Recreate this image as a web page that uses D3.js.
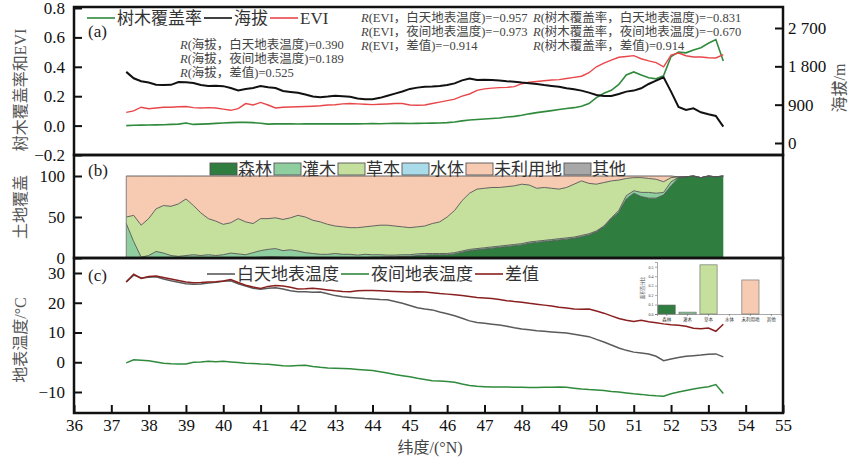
<!DOCTYPE html>
<html>
<head>
<meta charset="utf-8">
<script src="https://cdn.jsdelivr.net/npm/d3@7"></script>
<style>
  body { margin: 0; background: #fff; }
  svg text { font-family: "Liberation Serif", "Noto Sans CJK SC", serif; }
</style>
</head>
<body>
<div id="chart"></div>
<script>
// ---- data ----
const lat = [37.4, 37.6, 37.8, 38.0, 38.2, 38.4, 38.6, 38.8, 39.0, 39.2, 39.4, 39.6, 39.8, 40.0, 40.2, 40.4, 40.6, 40.8,
  41.0, 41.2, 41.4, 41.6, 41.8, 42.0, 42.2, 42.4, 42.6, 42.8, 43.0, 43.2, 43.4, 43.6, 43.8, 44.0, 44.2, 44.4, 44.6, 44.8,
  45.0, 45.2, 45.4, 45.6, 45.8, 46.0, 46.2, 46.4, 46.6, 46.8, 47.0, 47.2, 47.4, 47.6, 47.8, 48.0, 48.2, 48.4, 48.6, 48.8,
  49.0, 49.2, 49.4, 49.6, 49.8, 50.0, 50.2, 50.4, 50.6, 50.8, 51.0, 51.2, 51.4, 51.6, 51.8, 52.0, 52.2, 52.4, 52.6, 52.8,
  53.0, 53.2, 53.4];

const treeCover = [0.000, 0.002, 0.003, 0.004, 0.005, 0.006, 0.008, 0.010, 0.018, 0.008, 0.010, 0.012, 0.015, 0.018, 0.020, 0.022, 0.022, 0.020,
  0.016, 0.010, 0.012, 0.013, 0.012, 0.011, 0.012, 0.012, 0.013, 0.012, 0.012, 0.013, 0.012, 0.012, 0.013, 0.014, 0.013, 0.014, 0.015, 0.015,
  0.014, 0.015, 0.016, 0.017, 0.018, 0.020, 0.025, 0.032, 0.038, 0.042, 0.045, 0.048, 0.052, 0.058, 0.063, 0.070, 0.080, 0.088, 0.095, 0.102,
  0.110, 0.116, 0.122, 0.131, 0.150, 0.190, 0.220, 0.240, 0.280, 0.345, 0.365, 0.345, 0.325, 0.318, 0.340, 0.470, 0.500, 0.495, 0.515, 0.530,
  0.560, 0.585, 0.440];

const elevation = [1670, 1520, 1450, 1420, 1370, 1360, 1365, 1430, 1425, 1410, 1360, 1340, 1345, 1335, 1290, 1235, 1270, 1290,
  1340, 1310, 1290, 1220, 1200, 1180, 1140, 1090, 1075, 1090, 1110, 1100, 1085, 1045, 1030, 1030, 1060, 1110, 1160, 1210,
  1270, 1300, 1320, 1325, 1340, 1360, 1400, 1470, 1515, 1480, 1485, 1480, 1465, 1450, 1440, 1420, 1405, 1385, 1360, 1340,
  1323, 1285, 1262, 1230, 1183, 1128, 1105, 1105, 1150, 1206, 1230, 1285, 1386, 1464, 1540, 1206, 846, 775, 815, 721,
  674, 635, 383];

const evi = [0.090, 0.100, 0.125, 0.115, 0.120, 0.125, 0.125, 0.128, 0.130, 0.122, 0.120, 0.122, 0.120, 0.112, 0.104, 0.115, 0.150, 0.140,
  0.158, 0.140, 0.120, 0.125, 0.127, 0.128, 0.130, 0.132, 0.135, 0.140, 0.142, 0.148, 0.150, 0.148, 0.145, 0.143, 0.145, 0.147, 0.150, 0.150,
  0.140, 0.138, 0.140, 0.150, 0.160, 0.170, 0.180, 0.200, 0.215, 0.240, 0.250, 0.255, 0.258, 0.260, 0.265, 0.285, 0.295, 0.300, 0.305, 0.310,
  0.313, 0.320, 0.328, 0.336, 0.360, 0.400, 0.425, 0.445, 0.465, 0.470, 0.476, 0.455, 0.440, 0.428, 0.400, 0.480, 0.494, 0.475, 0.467, 0.467,
  0.462, 0.460, 0.483];

// land cover shares (%)
const forest = [0, 0, 0, 0, 0, 0, 0, 0, 0, 0, 0, 0, 0, 0, 0, 0, 0, 0.5,
  1, 1.5, 1.5, 1, 1, 0.5, 0.5, 0.5, 0.5, 0.5, 0.5, 0.5, 0.5, 0.5, 0.5, 1, 1, 1.5, 1.5, 2,
  2, 3, 3.5, 4, 4, 4, 5, 7, 9, 10, 11, 12, 13, 14, 15, 16, 18, 19, 20, 21,
  22, 23, 24, 26, 28, 32, 38, 48, 56, 72, 79, 75, 73, 73, 77, 88, 98, 99, 100, 98,
  100, 99, 100];
const shrub = [42, 20, 1, 3, 8, 6, 3, 2, 3, 4, 3, 4, 3, 4, 6, 5, 4, 6,
  8, 9, 10, 8, 9, 8, 6, 5, 4, 4, 5, 4, 4, 3, 4, 3, 3, 2, 2, 2,
  2, 2, 2, 1.5, 1.5, 1.5, 1.5, 1.5, 1.5, 1.5, 1.5, 1.5, 1.5, 1.5, 1.5, 1.5, 1.5, 1.5, 1.5, 1.5,
  1.5, 1.5, 1.5, 1.5, 1.5, 1, 1, 1, 2, 4, 3, 5, 7, 6, 3, 5, 0.5, 0, 0, 0,
  0, 0, 0];
const grass = [8, 32, 39, 45, 52, 58, 60, 64, 69, 60, 52, 44, 42, 37, 37, 43, 40, 35.5,
  39, 37.5, 37.5, 38, 39, 43.5, 43.5, 40.5, 39.5, 36.5, 33.5, 33.5, 32.5, 33.5, 33.5, 35, 36, 36.5, 35.5, 34,
  33, 33, 33.5, 36.5, 38.5, 44.5, 51.5, 61.5, 68.5, 72.5, 72.5, 72.5, 71.5, 71.5, 71.5, 72.5, 69.5, 64.5, 64.5, 62.5,
  60.5, 61.5, 64.5, 66.5, 61.5, 57, 53, 45, 37, 21, 16, 18, 17, 17, 13, 5, 0.5, 0, 0, 0,
  0, 0, 0];
const unused = [50, 48, 60, 52, 40, 36, 37, 34, 28, 36, 45, 52, 55, 59, 57, 52, 56, 58,
  52, 52, 51, 53, 51, 48, 50, 54, 56, 59, 61, 62, 63, 63, 62, 61, 60, 60, 61, 62,
  63, 62, 61, 58, 56, 50, 42, 30, 21, 16, 15, 14, 14, 13, 12, 10, 11, 15, 14, 15,
  16, 14, 10, 6, 9, 10, 8, 6, 5, 3, 2, 2, 3, 4, 7, 2, 0, 0, 0, 0,
  0, 0, 0];

const dayLST = [27.0, 29.3, 28.3, 28.6, 28.7, 28.0, 27.4, 26.9, 26.4, 26.2, 26.3, 26.6, 26.9, 27.2, 27.4, 26.4, 25.6, 24.9,
  24.5, 24.9, 25.0, 24.6, 24.0, 23.7, 23.7, 23.5, 23.6, 23.0, 22.4, 22.0, 21.8, 21.6, 21.4, 21.3, 21.1, 21.0, 20.4, 19.8,
  19.1, 18.3, 17.9, 17.6, 16.9, 16.3, 15.6, 14.8, 13.9, 13.4, 13.1, 12.8, 12.5, 12.1, 11.6, 11.2, 10.9, 10.6, 10.4, 10.2,
  10.0, 9.8, 9.4, 9.0, 8.6, 7.7, 6.8, 5.8, 4.8, 4.0, 3.4, 3.1, 2.8, 2.0, 0.5, 1.1, 1.6, 2.0, 2.2, 2.4,
  2.7, 2.8, 1.8];
const nightLST = [-0.2, 0.8, 0.7, 0.5, 0.1, -0.3, -0.5, -0.6, -0.6, 0.0, 0.1, 0.3, 0.2, 0.3, 0.1, -0.1, -0.3, -0.4,
  -0.6, -0.7, -0.9, -1.2, -1.3, -1.1, -1.0, -1.4, -1.7, -1.9, -2.0, -2.1, -2.2, -2.4, -2.6, -2.8, -3.2, -3.6, -4.1, -4.5,
  -4.9, -5.4, -5.8, -6.2, -6.3, -6.5, -6.7, -7.3, -7.8, -8.1, -8.2, -8.3, -8.3, -8.3, -8.4, -8.4, -8.5, -8.5, -8.4, -8.4,
  -8.3, -8.4, -8.7, -9.0, -9.2, -9.3, -9.5, -9.8, -10.0, -10.3, -10.6, -10.8, -11.1, -11.3, -11.4, -10.6, -10.0, -9.5, -9.0, -8.6,
  -8.2, -7.5, -10.5];
const diffLST = [27.0, 29.6, 28.2, 28.8, 29.0, 28.5, 28.0, 27.5, 27.0, 26.7, 26.8, 27.0, 27.1, 27.3, 27.8, 26.8, 25.9, 25.3,
  24.8, 25.5, 25.8, 25.6, 25.2, 24.6, 24.7, 24.9, 24.6, 24.3, 24.0, 23.8, 23.7, 24.0, 24.1, 24.1, 24.0, 23.9, 23.8, 23.7,
  23.6, 23.7, 23.6, 23.4, 23.1, 22.9, 22.7, 22.4, 22.1, 21.8, 21.6, 21.4, 21.1, 20.7, 20.4, 20.2, 19.8, 19.5, 19.2, 18.9,
  18.5, 18.2, 17.9, 17.8, 17.9, 17.2, 16.5, 15.6, 14.7, 14.1, 13.7, 14.1, 13.6, 13.3, 12.9, 12.6, 12.4, 12.1, 11.4, 11.3,
  11.5, 10.4, 12.8];

const landCoverKeys = ["forest", "shrub", "grass", "water", "unused", "other"];
const landCoverNames = ["森林", "灌木", "草本", "水体", "未利用地", "其他"];
const landCoverShare = [0.095, 0.02, 0.52, 0, 0.36, 0];

const latTicks = [36, 37, 38, 39, 40, 41, 42, 43, 44, 45, 46, 47, 48, 49, 50, 51, 52, 53, 54, 55];
const ticksA = [-0.2, 0, 0.2, 0.4, 0.6, 0.8];
const ticksElev = [0, 900, 1800, 2700];
const ticksB = [0, 50, 100];
const ticksC = [-10, 0, 10, 20, 30];
const insetTicks = [0, 0.1, 0.2, 0.3, 0.4, 0.5];

const corrElev = [["海拔，白天地表温度", "0.390"], ["海拔，夜间地表温度", "0.189"], ["海拔，差值", "0.525"]];
const corrEvi = [["EVI，白天地表温度", "−0.957"], ["EVI，夜间地表温度", "−0.973"], ["EVI，差值", "−0.914"]];
const corrTree = [["树木覆盖率，白天地表温度", "−0.831"], ["树木覆盖率，夜间地表温度", "−0.670"], ["树木覆盖率，差值", "0.914"]];

// ---- layout ----
const W = 851, H = 459;
const left = 74, right = 783;
const topA = 7, botA = 155, botB = 258, botC = 413;

const colTree = "#2f8a3c", colElev = "#111", colEvi = "#e8474a";
const colDay = "#5a5a5a", colNight = "#2f8a3c", colDiff = "#8a1f1f";
const lcColor = d3.scaleOrdinal().domain(landCoverKeys)
  .range(["#2f7d3f", "#8fce9f", "#c4e09c", "#a9dce8", "#f6cbb1", "#a8a8a8"]);

const svg = d3.select("#chart").append("svg").attr("width", W).attr("height", H);

const x = d3.scaleLinear().domain([36, 55]).range([left, right]);
const yA = d3.scaleLinear().domain([-0.2, 0.8]).range([botA, 8]);
const yElev = d3.scaleLinear().domain([0, 2700]).range([143, 28]);
const yB = d3.scaleLinear().domain([0, 100]).range([botB, 176]);
const yC = d3.scaleLinear().domain([-10, 30]).range([392, 273]);

function styleAxis(g) {
  g.select(".domain").remove();
  g.selectAll(".tick line").attr("stroke", "#111").attr("stroke-width", 2);
  g.selectAll(".tick text").attr("font-size", "17px").attr("fill", "#111");
}

// ---- panel (a) ----
const lineOf = (yScale, vals) => d3.line().x((d, i) => x(lat[i])).y((d, i) => yScale(vals[i]));
svg.append("path").attr("d", lineOf(yA, treeCover)(lat))
  .attr("fill", "none").attr("stroke", colTree).attr("stroke-width", 1.6);
svg.append("path").attr("d", lineOf(yA, evi)(lat))
  .attr("fill", "none").attr("stroke", colEvi).attr("stroke-width", 1.4);
svg.append("path").attr("d", lineOf(yElev, elevation)(lat))
  .attr("fill", "none").attr("stroke", colElev).attr("stroke-width", 2);

svg.append("g").attr("transform", `translate(${left},0)`)
  .call(d3.axisLeft(yA).tickValues(ticksA).tickSize(-8).tickPadding(9).tickFormat(d3.format(".1f")))
  .call(styleAxis);
svg.append("g").attr("transform", `translate(${right},0)`)
  .call(d3.axisRight(yElev).tickValues(ticksElev).tickSize(-8).tickPadding(5)
    .tickFormat(v => d3.format(",")(v).replace(",", " ")))
  .call(styleAxis);

// ---- panel (b) ----
const rows = lat.map((l, i) => ({ lat: l, forest: forest[i], shrub: shrub[i], grass: grass[i], unused: unused[i] }));
const stack = d3.stack().keys(landCoverKeys).value((d, k) => d[k] || 0);
const layers = stack(rows);
const area = d3.area().x(d => x(d.data.lat)).y0(d => yB(d[0])).y1(d => yB(d[1]));
const topLine = d3.line().x(d => x(d.data.lat)).y(d => yB(d[1]));
layers.forEach(layer => {
  svg.append("path").attr("d", area(layer)).attr("fill", lcColor(layer.key));
});
layers.forEach(layer => {
  if (layer.key === "water" || layer.key === "other") return;
  svg.append("path").attr("d", topLine(layer))
    .attr("fill", "none").attr("stroke", "#555").attr("stroke-width", 0.9);
});
svg.append("line")
  .attr("x1", x(lat[0])).attr("x2", x(lat[0]))
  .attr("y1", yB(0)).attr("y2", yB(layers[layers.length - 1][0][1]))
  .attr("stroke", "#777").attr("stroke-width", 0.9);

svg.append("g").attr("transform", `translate(${left},0)`)
  .call(d3.axisLeft(yB).tickValues(ticksB).tickSize(-8).tickPadding(9))
  .call(styleAxis);

// ---- panel (c) ----
svg.append("path").attr("d", lineOf(yC, dayLST)(lat))
  .attr("fill", "none").attr("stroke", colDay).attr("stroke-width", 1.5);
svg.append("path").attr("d", lineOf(yC, nightLST)(lat))
  .attr("fill", "none").attr("stroke", colNight).attr("stroke-width", 1.5);
svg.append("path").attr("d", lineOf(yC, diffLST)(lat))
  .attr("fill", "none").attr("stroke", colDiff).attr("stroke-width", 1.5);

svg.append("g").attr("transform", `translate(${left},0)`)
  .call(d3.axisLeft(yC).tickValues(ticksC).tickSize(-8).tickPadding(9))
  .call(styleAxis);
svg.append("g").attr("transform", `translate(0,${botC})`)
  .call(d3.axisBottom(x).tickValues(latTicks).tickSize(-8).tickPadding(6))
  .call(styleAxis);

// inset bar chart
const ix = d3.scaleBand().domain(landCoverNames).range([657, 781]).paddingInner(0.18).paddingOuter(0.05);
const iy = d3.scaleLinear().domain([0, 0.55]).range([314, 262]);
svg.append("rect").attr("x", 636).attr("y", 259.5).attr("width", 146).attr("height", 57).attr("fill", "#fff");
svg.selectAll(".ibar").data(landCoverShare).join("rect")
  .attr("x", (d, i) => ix(landCoverNames[i]))
  .attr("y", d => iy(d))
  .attr("width", ix.bandwidth())
  .attr("height", d => iy(0) - iy(d))
  .attr("fill", (d, i) => lcColor(landCoverKeys[i]))
  .attr("stroke", "#666").attr("stroke-width", 0.6);
const iyAxis = svg.append("g").attr("transform", "translate(657,0)")
  .call(d3.axisLeft(iy).tickValues(insetTicks).tickSize(2).tickPadding(1.5).tickFormat(d3.format(".1f")));
iyAxis.selectAll("text").attr("font-size", "4px").attr("fill", "#333");
iyAxis.selectAll("line,path").attr("stroke", "#555").attr("stroke-width", 0.5);
const ixAxis = svg.append("g").attr("transform", "translate(0,314)")
  .call(d3.axisBottom(ix).tickSize(2).tickPadding(2));
ixAxis.selectAll("text").attr("font-size", "4.5px").attr("fill", "#333");
ixAxis.selectAll("line,path").attr("stroke", "#555").attr("stroke-width", 0.5);
svg.append("line").attr("x1", 781).attr("x2", 781).attr("y1", 259).attr("y2", 314)
  .attr("stroke", "#bbb").attr("stroke-width", 1);
svg.append("text").attr("transform", "translate(644,288) rotate(-90)")
  .attr("text-anchor", "middle").attr("font-size", "4.5px").attr("fill", "#333").text("面积百分比");

// ---- frames ----
[[topA, botA], [botA, botB], [botB, botC]].forEach(([t, b]) => {
  svg.append("rect").attr("x", left).attr("y", t).attr("width", right - left).attr("height", b - t)
    .attr("fill", "none").attr("stroke", "#111").attr("stroke-width", 2.5);
});

// ---- legends ----
function lineLegend(items, x0, y0) {
  let cx = x0;
  items.forEach(([label, color]) => {
    svg.append("line").attr("x1", cx).attr("x2", cx + 28).attr("y1", y0).attr("y2", y0)
      .attr("stroke", color).attr("stroke-width", 1.6);
    const t = svg.append("text").attr("x", cx + 30).attr("y", y0 + 6)
      .attr("font-size", "17px").attr("fill", "#333").text(label);
    cx += 30 + t.node().getComputedTextLength() + 2;
  });
}
lineLegend([["树木覆盖率", colTree], ["海拔", colElev], ["EVI", colEvi]], 87, 18);
lineLegend([["白天地表温度", colDay], ["夜间地表温度", colNight], ["差值", colDiff]], 207, 274);

let bx = 210;
landCoverKeys.forEach((k, i) => {
  svg.append("rect").attr("x", bx).attr("y", 163).attr("width", 27).attr("height", 12)
    .attr("fill", lcColor(k)).attr("stroke", "#555").attr("stroke-width", 0.9);
  const t = svg.append("text").attr("x", bx + 28).attr("y", 175)
    .attr("font-size", "17px").attr("fill", "#333").text(landCoverNames[i]);
  bx += 28 + t.node().getComputedTextLength() + 2;
});

// panel letters
[["(a)", 37], ["(b)", 176], ["(c)", 281]].forEach(([s, yy]) => {
  svg.append("text").attr("x", 88).attr("y", yy).attr("font-size", "17px").attr("fill", "#222").text(s);
});

// correlation notes
function corrBlock(list, x0, y0) {
  list.forEach(([pair, val], i) => {
    const t = svg.append("text").attr("x", x0).attr("y", y0 + i * 14.2)
      .attr("font-size", "12.5px").attr("fill", "#444");
    t.append("tspan").attr("font-style", "italic").text("R");
    t.append("tspan").text(`(${pair})=${val}`);
  });
}
corrBlock(corrElev, 180, 49);
corrBlock(corrEvi, 361, 22);
corrBlock(corrTree, 533, 22);

// axis titles
function vTitle(txt, cx, cy) {
  svg.append("text").attr("transform", `translate(${cx},${cy}) rotate(-90)`)
    .attr("text-anchor", "middle").attr("font-size", "16px").attr("fill", "#555").text(txt);
}
vTitle("树木覆盖率和EVI", 26, 90);
vTitle("土地覆盖", 26, 207);
vTitle("地表温度/°C", 26, 340);
vTitle("海拔/m", 845, 88);
svg.append("text").attr("x", 430).attr("y", 453).attr("text-anchor", "middle")
  .attr("font-size", "16px").attr("fill", "#444").text("纬度/(°N)");
</script>
</body>
</html>
